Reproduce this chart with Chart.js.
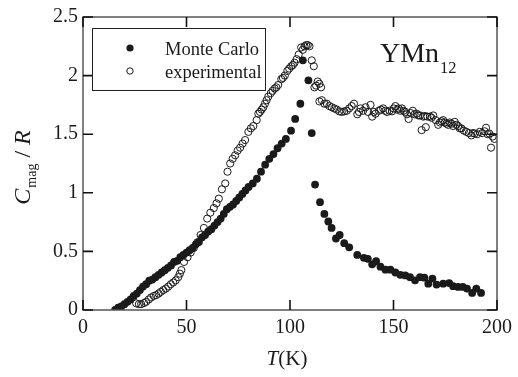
<!DOCTYPE html>
<html>
<head>
<meta charset="utf-8">
<title>YMn12 magnetic specific heat</title>
<script src="https://cdn.jsdelivr.net/npm/chart.js@4/dist/chart.umd.min.js"></script>
<style>
  html, body { margin: 0; padding: 0; background: #fff; }
  canvas { display: block; }
</style>
</head>
<body>
<canvas id="c" width="518" height="377"></canvas>
<script>
// Magnetic specific heat C_mag/R of YMn12 versus temperature T (K)

// Monte Carlo simulation
const mcTemp = [
  15.5, 17.0, 18.5, 20.0, 21.5, 23.0, 24.5, 26.0, 27.5, 29.0,
  30.5, 32.0, 33.5, 35.0, 36.5, 38.0, 39.5, 41.0, 42.5, 44.0,
  45.5, 47.0, 48.5, 50.0, 51.5, 53.0, 54.5, 56.0, 57.5, 59.0,
  60.5, 62.0, 63.5, 65.0, 66.5, 68.0, 69.5, 71.0, 72.5, 74.0,
  75.5, 77.0, 78.5, 80.0, 82.0, 84.0, 86.0, 88.0, 90.0, 92.0,
  94.0, 96.0, 98.0, 100.5, 102.5, 105.0, 106.2, 108.9, 110.5, 112.1,
  114.5, 116.6, 118.5, 120.1, 122.2, 124.0, 126.2, 128.6, 132.5, 135.7,
  137.6, 139.7, 141.6, 143.7, 146.1, 148.5, 150.9, 153.3, 155.7, 158.0,
  160.4, 162.8, 164.9, 166.8, 168.8, 170.8, 174.0, 176.9, 178.8, 181.2,
  183.5, 185.5, 188.0, 190.0, 192.3
];
const mcCmag = [
  0.00, 0.02, 0.03, 0.05, 0.07, 0.09, 0.12, 0.14, 0.17, 0.20,
  0.22, 0.25, 0.26, 0.28, 0.30, 0.32, 0.34, 0.36, 0.38, 0.41,
  0.42, 0.45, 0.47, 0.49, 0.51, 0.53, 0.56, 0.58, 0.62, 0.64,
  0.67, 0.69, 0.72, 0.75, 0.78, 0.82, 0.86, 0.88, 0.90, 0.93,
  0.96, 0.99, 1.02, 1.05, 1.08, 1.12, 1.18, 1.24, 1.29, 1.33,
  1.38, 1.42, 1.46, 1.53, 1.63, 1.76, 2.13, 1.96, 1.51, 1.07,
  0.92, 0.82, 0.755, 0.70, 0.61, 0.64, 0.57, 0.535, 0.47, 0.445,
  0.437, 0.39, 0.416, 0.37, 0.344, 0.344, 0.32, 0.30, 0.295, 0.28,
  0.253, 0.28, 0.276, 0.225, 0.268, 0.217, 0.225, 0.23, 0.203, 0.197,
  0.197, 0.183, 0.146, 0.183, 0.146
];

// Measured data
const expTemp = [
  25.7, 27.0, 28.1, 29.5, 30.5, 31.8, 32.9, 34.2, 35.3, 36.5,
  37.6, 38.8, 40.0, 41.2, 42.4, 43.6, 44.8, 46.0, 46.8, 47.5,
  48.8, 50.5, 52.0, 53.5, 55.2, 56.8, 58.4, 60.0, 61.5, 63.2,
  64.5, 65.6, 67.1, 68.7, 69.8, 71.1, 72.3, 73.5, 74.7, 75.9,
  77.1, 78.3, 79.9, 81.1, 82.3, 83.9, 84.7, 85.5, 86.3, 87.1,
  87.9, 88.7, 89.5, 90.7, 91.6, 92.6, 93.4, 94.3, 95.8, 96.6,
  97.5, 98.7, 99.6, 100.6, 101.4, 102.2, 103.2, 104.2, 105.4, 106.2,
  107.0, 107.8, 108.6, 109.4, 110.5, 111.5, 111.8, 112.6, 113.4, 114.2,
  115.0, 114.2, 115.4, 116.6, 117.8, 119.0, 120.2, 121.4, 122.6, 123.8,
  125.0, 126.2, 127.4, 128.6, 129.8, 130.9, 132.5, 133.3, 134.1, 135.3,
  136.5, 137.7, 138.9, 139.7, 140.5, 141.3, 142.9, 143.9, 145.0, 146.0,
  146.9, 148.1, 149.3, 150.1, 150.9, 151.7, 152.5, 153.3, 154.1, 154.9,
  155.7, 156.5, 157.3, 158.3, 159.3, 160.2, 161.2, 162.0, 162.8, 163.6,
  164.4, 165.6, 165.2, 166.4, 167.6, 168.4, 169.2, 170.4, 171.6, 172.4,
  173.2, 174.0, 174.8, 175.6, 176.4, 177.2, 178.0, 178.8, 179.6, 180.4,
  181.2, 182.0, 182.8, 184.0, 185.2, 186.4, 187.6, 188.4, 189.2, 190.4,
  191.6, 192.8, 194.0, 194.7, 195.5, 196.3, 197.1, 197.9, 198.7
];
const expCmag = [
  0.057, 0.05, 0.05, 0.06, 0.07, 0.09, 0.107, 0.12, 0.127, 0.14,
  0.155, 0.17, 0.183, 0.20, 0.22, 0.235, 0.253, 0.28, 0.31, 0.34,
  0.41, 0.45, 0.49, 0.53, 0.577, 0.64, 0.70, 0.78, 0.83, 0.87,
  0.91, 0.95, 1.03, 1.08, 1.18, 1.25, 1.29, 1.32, 1.36, 1.385,
  1.42, 1.45, 1.52, 1.55, 1.57, 1.62, 1.675, 1.69, 1.71, 1.73,
  1.76, 1.79, 1.82, 1.85, 1.87, 1.89, 1.90, 1.92, 1.97, 1.98,
  2.00, 2.04, 2.06, 2.08, 2.09, 2.11, 2.14, 2.18, 2.24, 2.22,
  2.25, 2.26, 2.26, 2.25, 2.13, 2.08, 1.90, 1.915, 1.95, 1.93,
  1.90, 1.78, 1.79, 1.76, 1.76, 1.74, 1.73, 1.72, 1.71, 1.695,
  1.69, 1.695, 1.70, 1.72, 1.74, 1.76, 1.67, 1.69, 1.72, 1.70,
  1.73, 1.69, 1.75, 1.65, 1.69, 1.675, 1.70, 1.71, 1.72, 1.70,
  1.69, 1.70, 1.695, 1.72, 1.74, 1.71, 1.72, 1.70, 1.72, 1.70,
  1.69, 1.67, 1.63, 1.68, 1.70, 1.67, 1.675, 1.66, 1.66, 1.535,
  1.65, 1.56, 1.655, 1.65, 1.65, 1.64, 1.66, 1.62, 1.58, 1.60,
  1.61, 1.62, 1.60, 1.59, 1.58, 1.60, 1.59, 1.57, 1.605, 1.58,
  1.57, 1.55, 1.55, 1.53, 1.52, 1.51, 1.49, 1.51, 1.505, 1.50,
  1.52, 1.51, 1.525, 1.555, 1.50, 1.505, 1.385, 1.48, 1.46
];

const xTickValues = [0, 50, 100, 150, 200];
const yTickValues = [0, 0.5, 1, 1.5, 2, 2.5];

const seriesNames = ['Monte Carlo', 'experimental'];
const compoundName = ['YMn', '12'];

const SERIF = '"Liberation Serif", "Times New Roman", serif';
const INK = '#1a1a1a';

function toPoints(xs, ys) {
  return xs.map((x, i) => ({ x: x, y: ys[i] }));
}

// Frame, inward tick marks, legend box, compound label and axis titles
const decorations = {
  id: 'decorations',
  afterDraw(chart) {
    const ctx = chart.ctx;
    const a = chart.chartArea;
    const xs = chart.scales.x, ys = chart.scales.y;
    const tick = 10;
    ctx.save();

    // plot frame
    ctx.strokeStyle = '#555';
    ctx.lineWidth = 1.5;
    ctx.strokeRect(a.left, a.top, a.right - a.left, a.bottom - a.top);

    // inward ticks on all four sides
    ctx.strokeStyle = '#111';
    ctx.lineWidth = 1.6;
    ctx.beginPath();
    xTickValues.forEach(v => {
      const px = xs.getPixelForValue(v);
      ctx.moveTo(px, a.bottom); ctx.lineTo(px, a.bottom - tick);
      ctx.moveTo(px, a.top); ctx.lineTo(px, a.top + tick);
    });
    yTickValues.forEach(v => {
      const py = ys.getPixelForValue(v);
      ctx.moveTo(a.left, py); ctx.lineTo(a.left + tick, py);
      ctx.moveTo(a.right, py); ctx.lineTo(a.right - tick, py);
    });
    ctx.stroke();

    // legend box
    const lx = a.left + 9, ly = a.top + 11, lw = 173, lh = 62;
    ctx.strokeStyle = '#222';
    ctx.lineWidth = 1;
    ctx.strokeRect(lx + 0.5, ly + 0.5, lw, lh);
    const ds = chart.data.datasets;
    const rows = [ly + 20, ly + 43];
    ctx.font = '18.5px ' + SERIF;
    ctx.textBaseline = 'alphabetic';
    ctx.textAlign = 'left';
    ds.forEach((d, i) => {
      const cy = rows[i];
      ctx.beginPath();
      if (i === 0) {
        ctx.fillStyle = INK;
        ctx.arc(lx + 38, cy, 3.6, 0, Math.PI * 2);
        ctx.fill();
      } else {
        ctx.strokeStyle = INK;
        ctx.lineWidth = 1;
        ctx.arc(lx + 38, cy, 3.2, 0, Math.PI * 2);
        ctx.stroke();
      }
      ctx.fillStyle = INK;
      ctx.fillText(d.label, lx + 73, cy + 7);
    });

    // compound label
    ctx.fillStyle = INK;
    ctx.font = '28px ' + SERIF;
    ctx.fillText(compoundName[0], 380, 62);
    const w0 = ctx.measureText(compoundName[0]).width;
    ctx.font = '16.5px ' + SERIF;
    ctx.fillText(compoundName[1], 380 + w0 + 1, 73);

    // x-axis title: T(K)
    ctx.font = 'italic 21px ' + SERIF;
    const wT = ctx.measureText('T').width;
    ctx.font = '21px ' + SERIF;
    const wK = ctx.measureText('(K)').width;
    const xc = (a.left + a.right) / 2 - 3;
    let x0 = xc - (wT + wK) / 2;
    ctx.font = 'italic 21px ' + SERIF;
    ctx.fillText('T', x0, 365);
    ctx.font = '21px ' + SERIF;
    ctx.fillText('(K)', x0 + wT, 365);

    // y-axis title: C_mag / R (rotated)
    const bigI = 'italic 24px ' + SERIF, sub = '14px ' + SERIF, big = '24px ' + SERIF;
    ctx.font = bigI; const wC = ctx.measureText('C').width; const wR = ctx.measureText('R').width;
    ctx.font = sub; const wM = ctx.measureText('mag').width;
    ctx.font = big; const wS = ctx.measureText(' / ').width;
    const total = wC + 1 + wM + wS + wR;
    const yc = (a.top + a.bottom) / 2 + 4;
    ctx.translate(30, yc + total / 2);
    ctx.rotate(-Math.PI / 2);
    let t = 0;
    ctx.font = bigI; ctx.fillText('C', t, 0); t += wC + 1;
    ctx.font = sub; ctx.fillText('mag', t, 6); t += wM;
    ctx.font = big; ctx.fillText(' / ', t, 0); t += wS;
    ctx.font = bigI; ctx.fillText('R', t, 0);

    ctx.restore();
  }
};

const tickFont = { family: SERIF, size: 20 };
const plainNumber = v => String(v);

new Chart(document.getElementById('c').getContext('2d'), {
  type: 'scatter',
  data: {
    datasets: [
      {
        label: seriesNames[0],
        data: toPoints(mcTemp, mcCmag),
        pointRadius: 3.9,
        pointBackgroundColor: INK,
        pointBorderColor: INK,
        pointBorderWidth: 0
      },
      {
        label: seriesNames[1],
        data: toPoints(expTemp, expCmag),
        pointRadius: 3.6,
        pointBackgroundColor: 'rgba(0,0,0,0)',
        pointBorderColor: INK,
        pointBorderWidth: 1
      }
    ]
  },
  options: {
    responsive: false,
    animation: false,
    events: [],
    layout: { padding: { top: 14, right: 17, left: 0, bottom: 0 } },
    plugins: { legend: { display: false }, tooltip: { enabled: false } },
    scales: {
      x: {
        type: 'linear', min: 0, max: 200,
        afterBuildTicks(s) { s.ticks = xTickValues.map(v => ({ value: v })); },
        ticks: { color: INK, font: tickFont, padding: 6, maxRotation: 0, callback: plainNumber },
        grid: { display: false, drawTicks: false },
        border: { display: false },
        afterFit(s) { s.height = 67; }
      },
      y: {
        type: 'linear', min: 0, max: 2.5,
        afterBuildTicks(s) { s.ticks = yTickValues.map(v => ({ value: v })); },
        ticks: { color: INK, font: tickFont, padding: 5, callback: plainNumber },
        grid: { display: false, drawTicks: false },
        border: { display: false },
        afterFit(s) { s.width = 83; }
      }
    }
  },
  plugins: [decorations]
});
</script>
</body>
</html>
